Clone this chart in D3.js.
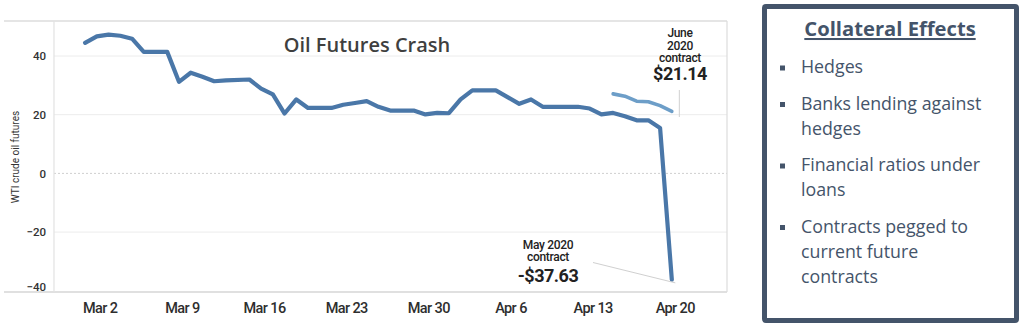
<!DOCTYPE html>
<html><head><meta charset="utf-8">
<script src="https://cdn.jsdelivr.net/npm/d3@7"></script>
<style>
html,body{margin:0;padding:0;background:#fff;}
svg{display:block;}
</style></head>
<body>
<svg id="c" width="1024" height="327"></svg>
<script>
// ---- data ----
const mayDates = ["2020-03-01","2020-03-02","2020-03-03","2020-03-04","2020-03-05","2020-03-06","2020-03-08",
"2020-03-09","2020-03-10","2020-03-11","2020-03-12","2020-03-13","2020-03-15","2020-03-16","2020-03-17","2020-03-18",
"2020-03-19","2020-03-20","2020-03-22","2020-03-23","2020-03-24","2020-03-25","2020-03-26","2020-03-27","2020-03-29",
"2020-03-30","2020-03-31","2020-04-01","2020-04-02","2020-04-03","2020-04-05","2020-04-06","2020-04-07","2020-04-08",
"2020-04-09","2020-04-12","2020-04-13","2020-04-14","2020-04-15","2020-04-16","2020-04-17","2020-04-18","2020-04-19","2020-04-20"];
const mayValues = [44.5,46.7,47.3,46.9,45.9,41.4,41.4,
31.2,34.3,32.9,31.4,31.7,32.0,28.9,26.9,20.4,
25.2,22.3,22.3,23.4,24.0,24.6,22.7,21.4,21.4,
20.1,20.6,20.5,25.2,28.3,28.3,26.0,23.7,25.2,
22.7,22.7,22.1,20.1,20.6,19.5,18.1,18.1,15.5,-36.2];
const juneDates = ["2020-04-15","2020-04-16","2020-04-17","2020-04-18","2020-04-19","2020-04-20"];
const juneValues = [27.1,26.3,24.6,24.4,23.1,21.14];
const tickDates = ["2020-03-02","2020-03-09","2020-03-16","2020-03-23","2020-03-30","2020-04-06","2020-04-13","2020-04-20"];
const yTicks = [40,20,0,-20,-40];
const chartTitle = "Oil Futures Crash";
const yLabel = "WTI crude oil futures";
const juneLabel = ["June","2020","contract"], juneValueLabel = "$21.14";
const mayLabel = ["May 2020","contract"], mayValueLabel = "-$37.63";
const panelTitle = "Collateral Effects";
const bullets = [["Hedges"],["Banks lending against","hedges"],["Financial ratios under","loans"],["Contracts pegged to","current future","contracts"]];

// ---- setup ----
const svg = d3.select("#c");
const parse = d3.utcParse("%Y-%m-%d");
const tickOffsetH = 6.5; // axis ticks sit slightly after data day positions
const x = d3.scaleUtc()
  .domain([parse("2020-03-02"), parse("2020-04-20")])
  .range([100 - 11.73*tickOffsetH/24, 675 - 11.73*tickOffsetH/24]);
const xt = d => d3.utcHour.offset(parse(d), tickOffsetH);
const y = d3.scaleLinear().domain([-40, 40]).range([290.8, 56]);
const L = 4, R = 727, T = 21, B = 292, PL = 54;

const g = svg.append("g");
// gridlines
g.selectAll(".grid").data(yTicks.filter(v => v !== -40)).join("line")
  .attr("x1", PL).attr("x2", R).attr("y1", d => y(d)).attr("y2", d => y(d))
  .attr("stroke", d => d === 0 ? "#cfcfcf" : "#ececec")
  .attr("stroke-width", 1)
  .attr("stroke-dasharray", d => d === 0 ? "2,2" : null);
g.append("line").attr("x1", L).attr("x2", R).attr("y1", T).attr("y2", T).attr("stroke", "#dcdcdc").attr("stroke-width", 1.5);
g.append("line").attr("x1", L).attr("x2", R).attr("y1", B).attr("y2", B).attr("stroke", "#d6d6d6").attr("stroke-width", 1.5);
g.append("line").attr("x1", R).attr("x2", R).attr("y1", T).attr("y2", B).attr("stroke", "#dcdcdc").attr("stroke-width", 1.2);
g.append("line").attr("x1", PL).attr("x2", PL).attr("y1", T).attr("y2", B).attr("stroke", "#e2e2e2").attr("stroke-width", 1.2);

// y axis labels
const yAxis = d3.axisLeft(y).tickValues(yTicks).tickSize(0).tickPadding(8).tickFormat(d3.format("d"));
const ya = g.append("g").attr("transform", `translate(${PL},0)`).call(yAxis);
ya.select(".domain").remove();
ya.selectAll("text").attr("font-family", "Roboto, sans-serif").attr("font-size", 11.5).attr("font-weight", 500).attr("fill", "#333")
  .attr("dy", (d) => d === -40 ? "-0.05em" : "0.32em");
g.append("text").attr("transform", "translate(19,157) rotate(-90)").attr("text-anchor", "middle")
  .attr("font-family", "Roboto, sans-serif").attr("font-size", 10).attr("fill", "#333").text(yLabel);

// x axis labels
const xAxis = d3.axisBottom(x).tickValues(tickDates.map(xt)).tickSize(0).tickPadding(11).tickFormat(d3.utcFormat("%b %-d"));
const xa = g.append("g").attr("transform", `translate(0,${B})`).call(xAxis);
xa.select(".domain").remove();
xa.selectAll("text").attr("font-family", "Roboto, sans-serif").attr("font-size", 14.5).attr("font-weight", 500).attr("fill", "#2e2e2e")
  .attr("letter-spacing", "-0.6px");

// lines
const line = d3.line().x(d => x(d[0])).y(d => y(d[1])).curve(d3.curveLinear);
const mayData = mayDates.map((d, i) => [parse(d), mayValues[i]]);
const juneData = juneDates.map((d, i) => [parse(d), juneValues[i]]);
g.append("path").datum(juneData).attr("d", line).attr("fill", "none")
  .attr("stroke", "#6d9ec8").attr("stroke-width", 3.6).attr("stroke-linejoin", "round").attr("stroke-linecap", "round");
g.append("path").datum(mayData).attr("d", line).attr("fill", "none")
  .attr("stroke", "#4a77a8").attr("stroke-width", 4.2).attr("stroke-linejoin", "round").attr("stroke-linecap", "round");

// title
g.append("text").attr("x", 367).attr("y", 52).attr("text-anchor", "middle")
  .attr("font-family", "'Open Sans', sans-serif").attr("font-weight", 600).attr("font-size", 20).attr("fill", "#3f3f3f").text(chartTitle);

// June annotation
const lastJ = juneData[juneData.length - 1];
const jx = x(lastJ[0]) + 7.5;
g.append("line").attr("x1", jx).attr("x2", jx).attr("y1", 90).attr("y2", 117).attr("stroke", "#d0d0d0").attr("stroke-width", 1);
const ja = g.append("g").attr("font-family", "Roboto, sans-serif").attr("text-anchor", "middle").attr("fill", "#222");
juneLabel.forEach((t, i) => ja.append("text").attr("x", 680).attr("y", 37 + i * 12.5).attr("font-size", 12).attr("font-weight", 500).attr("letter-spacing", "-0.3px").text(t));
ja.append("text").attr("x", 680).attr("y", 80).attr("font-size", 18).attr("font-weight", 700).attr("letter-spacing", "-0.5px").text(juneValueLabel);

// May annotation
const lastM = mayData[mayData.length - 1];
g.append("line").attr("x1", 593).attr("y1", 262.5).attr("x2", x(lastM[0]) + 3.5).attr("y2", y(-37.63) - 1)
  .attr("stroke", "#d0d0d0").attr("stroke-width", 1);
const ma = g.append("g").attr("font-family", "Roboto, sans-serif").attr("text-anchor", "middle").attr("fill", "#222");
mayLabel.forEach((t, i) => ma.append("text").attr("x", 548).attr("y", 249 + i * 12.3).attr("font-size", 12).attr("font-weight", 500).attr("letter-spacing", "-0.3px").text(t));
ma.append("text").attr("x", 548).attr("y", 282).attr("font-size", 18).attr("font-weight", 700).attr("letter-spacing", "-0.5px").text(mayValueLabel);

// right panel
const panelColor = "#44546a";
svg.append("rect").attr("x", 764.5).attr("y", 6.5).attr("width", 252).attr("height", 314)
  .attr("fill", "#fff").attr("stroke", panelColor).attr("stroke-width", 5).attr("rx", 1.5);
svg.append("text").attr("x", 890).attr("y", 36).attr("text-anchor", "middle")
  .attr("font-family", "'Open Sans', sans-serif").attr("font-weight", 700).attr("font-size", 20.2)
  .attr("fill", panelColor).attr("text-decoration", "underline").text(panelTitle);
let yy = 73;
bullets.forEach((b) => {
  svg.append("rect").attr("x", 780).attr("y", yy - 7.5).attr("width", 5).attr("height", 5).attr("fill", panelColor);
  b.forEach((t, j) => {
    svg.append("text").attr("x", 801).attr("y", yy + j * 25).attr("font-family", "'Open Sans', sans-serif")
      .attr("font-size", 17.8).attr("fill", panelColor).text(t);
  });
  yy += b.length * 25 + 11.5;
});
</script>
</body></html>
